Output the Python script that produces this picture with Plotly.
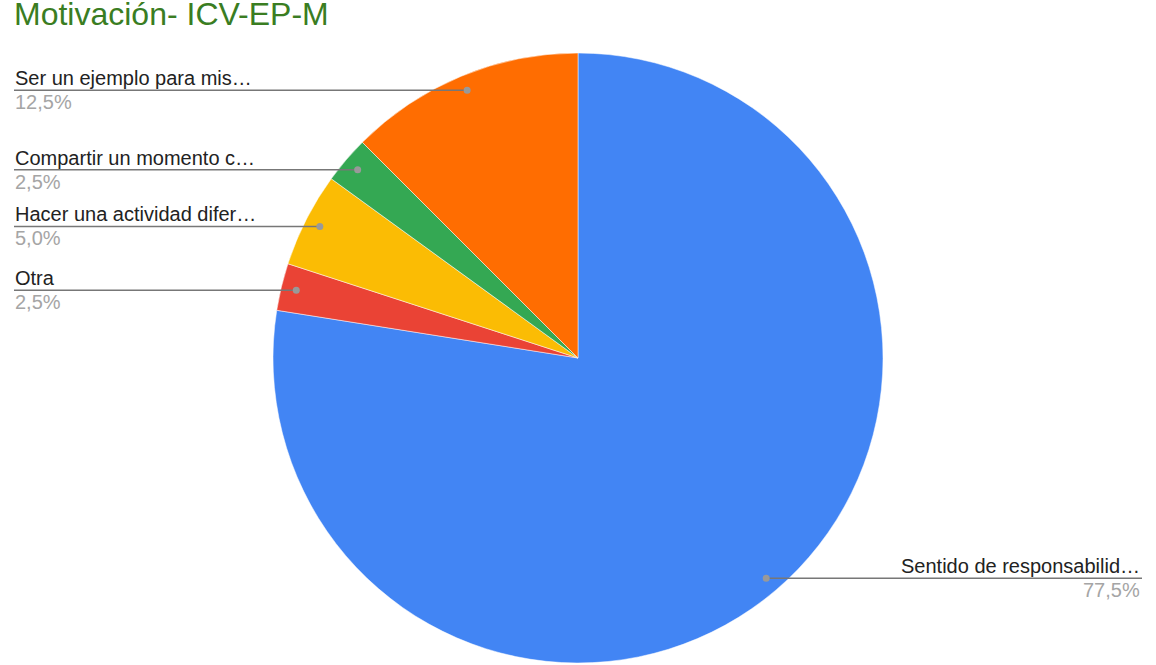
import math
import plotly.graph_objects as go

# Data
labels = ["Sentido de responsabilid…", "Otra", "Hacer una actividad difer…",
          "Compartir un momento c…", "Ser un ejemplo para mis…"]
values = [77.5, 2.5, 5.0, 2.5, 12.5]
pct_text = ["77,5%", "2,5%", "5,0%", "2,5%", "12,5%"]
colors = ["#4285f4", "#ea4335", "#fbbc04", "#34a853", "#ff6d01"]
title_text = "Motivación- ICV-EP-M"

W, H = 1156, 665
CX, CY, R = 578, 358, 305

def px(x):
    return x / W

def py(y):
    return 1 - y / H

FONT = "Liberation Sans, Arial"

fig = go.Figure()
fig.add_trace(go.Pie(
    labels=labels, values=values, sort=False, direction="clockwise", rotation=0,
    marker=dict(colors=colors, line=dict(color="white", width=0.5)),
    textinfo="none", hoverinfo="label+percent", showlegend=False,
    domain=dict(x=[px(CX - R), px(CX + R)], y=[py(CY + R), py(CY - R)]),
))

shapes = []
annotations = []
total = sum(values)
cum = 0.0
for lab, v, pt in zip(labels, values, pct_text):
    mid = (cum + v / 2) / total * 2 * math.pi
    cum += v
    dx = math.sin(mid) * R * 0.95
    dy = -math.cos(mid) * R * 0.95
    dotx, doty = CX + dx, CY + dy
    if dx < 0:
        x0, x1 = 14, dotx
        tx, anchor = 13, "left"
    else:
        x0, x1 = dotx, 1142
        tx, anchor = 1142, "right"
    shapes.append(dict(type="line", xref="paper", yref="paper",
                       x0=px(x0), x1=px(x1), y0=py(doty), y1=py(doty),
                       line=dict(color="#777777", width=1.5)))
    shapes.append(dict(type="circle", xref="paper", yref="paper",
                       x0=px(dotx - 3.5), x1=px(dotx + 3.5),
                       y0=py(doty + 3.5), y1=py(doty - 3.5),
                       fillcolor="#999999", line=dict(width=0)))
    annotations.append(dict(text=lab, x=px(tx), y=py(doty + 1), xref="paper", yref="paper",
                            xanchor=anchor, yanchor="bottom", showarrow=False,
                            font=dict(family=FONT, size=20, color="#222222")))
    annotations.append(dict(text=pt, x=px(tx), y=py(doty - 1), xref="paper", yref="paper",
                            xanchor=anchor, yanchor="top", showarrow=False,
                            font=dict(family=FONT, size=20, color="#a5a5a5")))

annotations.append(dict(text=title_text, x=px(12), y=py(14), xref="paper", yref="paper",
                        xanchor="left", yanchor="middle", showarrow=False,
                        font=dict(family=FONT, size=32, color="#3a7d22")))

fig.update_layout(
    width=W, height=H, margin=dict(l=0, r=0, t=0, b=0),
    paper_bgcolor="white", plot_bgcolor="white",
    shapes=shapes, annotations=annotations,
)

fig.write_html("out.html", config={"displayModeBar": False})

# remove default browser body margin so the figure sits at the window origin
with open("out.html", "r", encoding="utf-8") as f:
    html = f.read()
html = html.replace("<head>", "<head><style>body{margin:0;overflow:hidden}</style>", 1)
with open("out.html", "w", encoding="utf-8") as f:
    f.write(html)
